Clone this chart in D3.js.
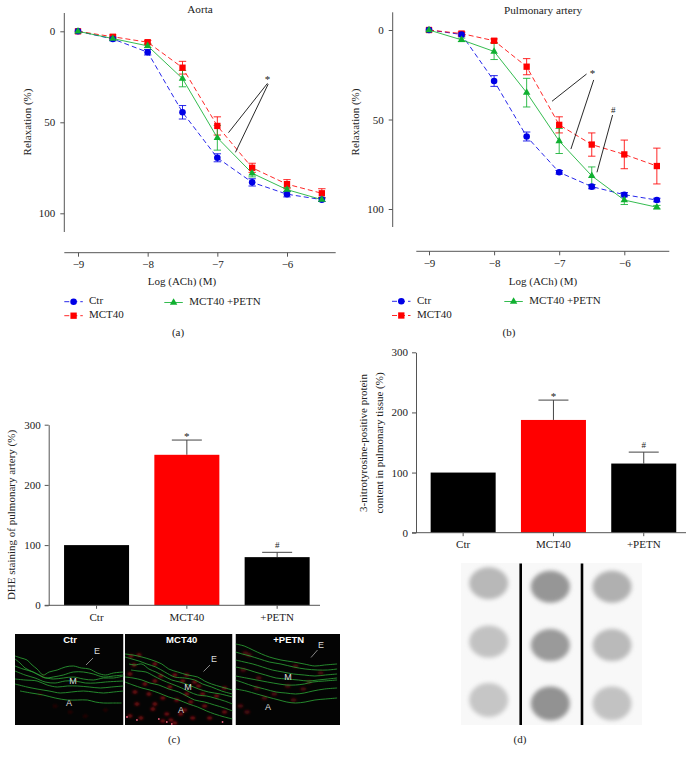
<!DOCTYPE html>
<html><head><meta charset="utf-8">
<script src="https://cdn.jsdelivr.net/npm/d3@7"></script>
<style>
html,body{margin:0;padding:0;background:#fff}
svg{display:block}
text{font-family:"Liberation Serif",serif;fill:#222}
</style></head><body>
<svg id="c" width="693" height="762"></svg>
<script>
// ---------- line-chart data ----------
const doses = [-9,-8.5,-8,-7.5,-7,-6.5,-6,-5.5];
const aortaCtr  = [0,4.2,11.5,44.5,69.5,83,89.5,92.5];
const aortaMct  = [0,3,6,20,52,75,84,89];
const aortaPetn = [0,4,8,26,58.5,78,87,92.5];
const aortaCtrErr  = [0,1,1.5,3.7,2.2,2,1.5,1];
const aortaMctErr  = [0,1,1,3.5,5,2.5,2.5,2.5];
const aortaPetnErr = [0,0.8,1,4.5,6.8,2,1.2,1];
const pulmCtr  = [0,2.5,28.5,59.5,79.5,87.5,92,95];
const pulmMct  = [0,2,6,20.5,53,64,69.5,76];
const pulmPetn = [0,5.5,12,35,62,81.5,95,99];
const pulmCtrErr  = [0,1,3,2.5,1,1.2,1.2,1];
const pulmMctErr  = [0,1,1,4.5,4.5,6.5,8,10];
const pulmPetnErr = [0,1,4.5,8,7,5,2.5,1];
const doseTicks = [-9,-8,-7,-6];
const relaxTicks = [0,50,100];
// annotation leaders in data units [x1,y1,x2,y2]
const aortaLeaders = [[-6.28,28.6,-6.84,55.7],[-6.27,29,-6.74,66.5]];
const aortaMarks = [["*",-6.28,26]];
const pulmLeaders = [[-6.58,24.6,-7.11,39.8],[-6.47,27.9,-6.82,66.5],[-6.18,47.5,-6.42,79.5]];
const pulmMarks = [["*",-6.49,23.8],["#",-6.17,45]];
// ---------- bar data ----------
const groups = ["Ctr","MCT40","+PETN"];
const dheValues = [100,250,80];
const dheTops = [null,274.5,88];
const dheMarks = [null,"*","#"];
const nitroValues = [100,187.5,115];
const nitroTops = [null,220.5,134];
const nitroMarks = [null,"*","#"];
const barTicks = [0,100,200,300];
const barColors = ["#000","#ff0000","#000"];
// ---------- dot blot (grey levels by lane, row) ----------
const blotGrey = [[184,194,198],[150,154,146],[176,186,194]];
// ---------- micrographs: traced in image px units ----------
const ctrFibres = [
 [[0,22],[6,24],[12,26],[17,31],[22,35],[28,41],[34,38],[42,36],[50,33],[58,32],[66,34],[74,35],[82,39],[90,41],[98,39],[108,38]],
 [[0,25],[5,29],[10,34],[18,38],[24,41],[30,44],[38,43],[48,41],[58,38],[68,38],[78,40],[88,43],[98,42],[108,41]],
 [[0,32],[8,35],[18,38],[28,43],[38,45],[48,44],[58,43],[68,45],[78,46],[88,44],[98,44],[108,42]],
 [[0,37],[10,41],[20,44],[30,48],[40,49],[50,47],[60,47],[70,49],[80,49],[90,48],[108,47]],
 [[0,45],[10,46],[22,47],[32,51],[42,53],[52,52],[62,52],[74,53],[85,54],[96,53],[108,52]],
 [[0,50],[12,53],[22,55],[34,57],[45,59],[56,58],[68,57],[78,58],[88,59],[98,58],[108,57]],
 [[5,57],[16,59],[28,61],[40,64],[52,66],[62,66],[72,66],[80,68],[88,69],[97,69],[106,69]]];
const mctFibres = [
 [[0,20],[8,21],[17,23],[27,26],[37,30],[44,35],[53,38],[63,41],[73,43],[80,47],[87,50],[97,53],[108,56]],
 [[0,23],[7,25],[14,27],[22,30],[31,33],[40,38],[50,43],[60,44],[70,46],[78,50],[87,53],[97,57],[108,60]],
 [[4,30],[10,31],[17,30],[24,35],[31,38],[39,42],[47,46],[55,48],[64,51],[74,55],[84,58],[96,60],[108,63]],
 [[6,36],[13,37],[21,38],[29,42],[37,46],[47,50],[57,54],[65,58],[73,61],[82,62],[90,64],[100,67],[108,70]],
 [[0,43],[8,44],[17,46],[25,49],[34,51],[44,55],[54,58],[62,62],[70,66],[80,68],[90,71],[100,74],[108,77]],
 [[0,48],[8,51],[17,54],[25,56],[34,59],[44,63],[54,66],[64,70],[73,73],[82,77],[90,80],[100,83],[108,85]]];
const petnFibres = [
 [[0,10],[9,12],[18,16],[27,20],[35,23],[47,26],[60,28],[71,30],[82,32],[92,31],[105,30]],
 [[0,18],[7,20],[15,22],[25,25],[35,28],[47,30],[60,33],[72,35],[85,36],[95,36],[105,35]],
 [[0,26],[9,28],[18,30],[28,33],[38,36],[49,38],[60,40],[71,41],[82,42],[93,41],[105,40]],
 [[0,33],[10,35],[20,38],[31,41],[42,44],[53,45],[65,46],[75,47],[85,46],[95,45],[105,44]],
 [[0,42],[11,44],[22,46],[33,48],[45,50],[53,51],[62,51],[71,50],[80,48],[92,47],[105,46]],
 [[0,46],[9,49],[18,52],[30,55],[42,58],[52,59],[62,60],[71,59],[80,57],[92,55],[105,54]],
 [[0,55],[11,57],[22,60],[33,63],[45,66],[53,68],[62,69],[72,68],[82,66],[93,65],[105,64]]];
const mctCells = [[6,22],[14,21],[9,31],[5,40],[30,30],[50,41],[62,41],[58,47],[74,52],[78,60],[62,60],[92,62],[100,54],[20,50],[30,47],[45,53],[10,58],[24,60],[38,64],[52,66],[66,68],[80,72],[12,70],[28,75],[42,80],[56,80],[68,84],[30,70],[85,84],[100,78],[5,82],[16,84],[50,89],[46,86],[38,87],[60,76],[70,48],[36,42]];
const mctBright = [[2,83],[12,86],[42,88],[47,90],[34,85],[98,88]];
const petnCells = [[10,19],[14,21],[8,36],[24,44],[22,54],[40,60],[60,66],[76,48],[88,39],[62,32],[5,72],[12,78],[30,64],[54,52],[70,55]];
const ctrCells = [[28,42],[25,60],[55,78],[40,72],[70,82],[90,76]];

const svg = d3.select("#c");
const defs = svg.append("defs");
const addBlur=(id,s)=>defs.append("filter").attr("id",id).attr("x","-40%").attr("y","-40%").attr("width","180%").attr("height","180%")
  .append("feGaussianBlur").attr("stdDeviation",s);
addBlur("b1",0.3);addBlur("b2",1.1);addBlur("b3",1.9);
const clip=(id,x,y,w,h)=>defs.append("clipPath").attr("id",id).append("rect").attr("x",x).attr("y",y).attr("width",w).attr("height",h);

const AXC="#555", FS=11;

function style(g){
  g.selectAll(".domain,.tick line").attr("stroke",AXC).attr("stroke-width",1);
  g.selectAll("text").attr("font-size",FS).attr("font-family","Liberation Serif").attr("fill","#222");
}
function lbl(x,y,t,size,rot){
  const s=svg.append("text").attr("text-anchor","middle").attr("font-size",size||FS).text(t);
  s.attr("transform",`translate(${x},${y})`+(rot?` rotate(${rot})`:"")).attr("dominant-baseline","middle");
  return s;
}
function marker(g,kind,x,y,col){
  if(kind==="c") g.append("circle").attr("cx",x).attr("cy",y).attr("r",3.3).attr("fill",col);
  else{
    const sym=d3.symbol().type(kind==="s"?d3.symbolSquare:d3.symbolTriangle).size(kind==="s"?40:24);
    g.append("path").attr("d",sym()).attr("transform",`translate(${x},${y})`).attr("fill",col);
  }
}
function lineChart(o){
  const x=d3.scaleLinear().domain([-9,-6]).range(o.xr);
  const y=d3.scaleLinear().domain([0,100]).range(o.yr);
  const g=svg.append("g");
  const xa=g.append("g").attr("transform",`translate(0,${o.xAxisY})`)
    .call(d3.axisBottom(x).tickValues(doseTicks).tickSizeInner(4).tickSizeOuter(0).tickPadding(4).tickFormat(d=>"\u2212"+Math.abs(d)));
  xa.select(".domain").attr("d",`M${o.xDom[0]},0H${o.xDom[1]}`);
  style(xa);
  const ya=g.append("g").attr("transform",`translate(${o.yAxisX},0)`)
    .call(d3.axisLeft(y).tickValues(relaxTicks).tickSizeInner(4).tickSizeOuter(0).tickPadding(5));
  ya.select(".domain").attr("d",`M0,${o.yDom[0]}V${o.yDom[1]}`);
  style(ya);
  const series=[
    {v:o.ctr,e:o.ctrE,c:"#0000e6",k:"c",dash:"5,3"},
    {v:o.mct,e:o.mctE,c:"#ff0000",k:"s",dash:"5,3"},
    {v:o.petn,e:o.petnE,c:"#10b030",k:"t",dash:null}];
  const line=d3.line().x((d,i)=>x(doses[i])).y(d=>y(d));
  series.forEach(s=>{
    const sg=g.append("g");
    sg.append("path").attr("d",line(s.v)).attr("fill","none").attr("stroke",s.c).attr("stroke-width",.85).attr("stroke-dasharray",s.dash);
    s.v.forEach((v,i)=>{
      if(s.e[i]>0){
        const px=x(doses[i]),a=y(v-s.e[i]),b=y(v+s.e[i]);
        sg.append("path").attr("d",`M${px-3.7},${a}H${px+3.7}M${px},${a}V${b}M${px-3.7},${b}H${px+3.7}`).attr("stroke",s.c).attr("stroke-width",.85).attr("fill","none");
      }
    });
  });
  [series[1],series[0],series[2]].forEach(s=>{
    s.v.forEach((v,i)=>marker(g,s.k,x(doses[i]),y(v),s.c));
  });
  o.leaders.forEach(l=>g.append("line").attr("x1",x(l[0])).attr("y1",y(l[1])).attr("x2",x(l[2])).attr("y2",y(l[3])).attr("stroke","#111").attr("stroke-width",.9));
  o.marks.forEach(m=>lbl(x(m[1]),y(m[2])+(m[0]==="*"?2:0),m[0],m[0]==="*"?11:9));
  lbl(o.title[0],o.title[1],o.title[2],11.2);
  lbl(o.yl[0],o.yl[1],"Relaxation (%)",FS,-90);
  lbl(o.xl[0],o.xl[1],"Log (ACh) (M)");
  // legend rows: label, series, line start, y, text start
  [["Ctr",series[0],...o.legend[0]],["MCT40",series[1],...o.legend[1]],["MCT40 +PETN",series[2],...o.legend[2]]]
   .forEach(r=>{
     const s=r[1];
     g.append("line").attr("x1",r[2]).attr("x2",r[2]+18.5).attr("y1",r[3]).attr("y2",r[3]).attr("stroke",s.c).attr("stroke-width",.85).attr("stroke-dasharray",s.dash);
     marker(g,s.k,r[2]+9.3,r[3],s.c);
     g.append("text").attr("x",r[4]).attr("y",r[3]).attr("dominant-baseline","middle").attr("font-size",FS).text(r[0]);
   });
  lbl(o.cap[0],o.cap[1],o.cap[2],FS);
}
lineChart({xr:[78,287],yr:[31.3,213.3],xAxisY:252.7,yAxisX:64.3,xDom:[64.3,335.7],yDom:[13,232],
  ctr:aortaCtr,mct:aortaMct,petn:aortaPetn,ctrE:aortaCtrErr,mctE:aortaMctErr,petnE:aortaPetnErr,
  leaders:aortaLeaders,marks:aortaMarks,title:[200,10,"Aorta"],yl:[28.5,122],xl:[182,282],
  legend:[[64.3,301.7,89],[64.3,315.7,89],[164.3,302.5,189.3]],cap:[178,333,"(a)"]});
lineChart({xr:[429,624.3],yr:[30,209],xAxisY:251.3,yAxisX:392.7,xDom:[416.3,669.3],yDom:[12.3,227],
  ctr:pulmCtr,mct:pulmMct,petn:pulmPetn,ctrE:pulmCtrErr,mctE:pulmMctErr,petnE:pulmPetnErr,
  leaders:pulmLeaders,marks:pulmMarks,title:[543,11,"Pulmonary artery"],yl:[356,122],xl:[543,282],
  legend:[[392,301.3,417],[392,315.5,417],[504.3,301.5,529.3]],cap:[509,333,"(b)"]});

function barChart(o){
  const y=d3.scaleLinear().domain([0,300]).range([o.y0,o.y300]);
  const x=d3.scaleBand().domain(groups).range(o.xr).paddingInner(.28).paddingOuter(.17);
  const g=svg.append("g");
  groups.forEach((c,i)=>{
    const cx=x(c)+x.bandwidth()/2;
    if(o.tops[i]!=null){
      g.append("path").attr("d",`M${cx},${y(o.vals[i])}V${y(o.tops[i])}M${cx-15},${y(o.tops[i])}H${cx+15}`).attr("stroke","#444").attr("stroke-width",1).attr("fill","none");
      lbl(cx,y(o.tops[i])-(o.marks[i]==="*"?2.5:6),o.marks[i],o.marks[i]==="*"?11:9);
    }
    g.append("rect").attr("x",x(c)).attr("y",y(o.vals[i])).attr("width",x.bandwidth()).attr("height",o.y0-y(o.vals[i])).attr("fill",barColors[i]);
  });
  const xa=g.append("g").attr("transform",`translate(0,${o.y0})`)
   .call(d3.axisBottom(x).tickSizeInner(3.5).tickSizeOuter(0).tickPadding(4));
  xa.select(".domain").attr("d",`M${o.xDom[0]},0H${o.xDom[1]}`);
  style(xa);
  const ya=g.append("g").attr("transform",`translate(${o.xDom[0]+o.yOff},0)`)
   .call(d3.axisLeft(y).tickValues(barTicks).tickSizeInner(4).tickSizeOuter(0).tickPadding(4));
  style(ya);
}
barChart({y0:605.3,y300:424.7,xr:[48.7,325],xDom:[44.7,320],yOff:4,vals:dheValues,tops:dheTops,marks:dheMarks});
lbl(12,515,"DHE staining of pulmonary artery (%)",FS,-90);
barChart({y0:532.7,y300:352.3,xr:[415.3,691.6],xDom:[412,686],yOff:4,vals:nitroValues,tops:nitroTops,marks:nitroMarks});
lbl(364,443,"3-nitrotyrosine-positive protein",FS,-90);
lbl(380,443,"content in pulmonary tissue (%)",FS,-90);
lbl(174,740,"(c)");lbl(520,740,"(d)");

// ---------- micrographs ----------
function micro(id,X,W,fibres,cells,cellCol,cellR,bright,title,tx,E,M,A,pointer){
  const Y=634,H=91;
  clip(id,X,Y,W,H);
  const g=svg.append("g").attr("clip-path",`url(#${id})`);
  g.append("rect").attr("x",X).attr("y",Y).attr("width",W).attr("height",H).attr("fill","#040404");
  const px=d3.scaleLinear().domain([0,108]).range([X,X+W]);
  const py=d3.scaleLinear().domain([0,91]).range([Y,Y+H]);
  const cg=g.append("g").attr("filter","url(#b2)");
  cells.forEach(c=>cg.append("ellipse").attr("cx",px(c[0])).attr("cy",py(c[1])).attr("rx",cellR*1.5).attr("ry",cellR).attr("fill",cellCol));
  bright.forEach(c=>g.append("circle").attr("cx",px(c[0])).attr("cy",py(c[1])).attr("r",.9).attr("fill","#e8607a"));
  const ln=d3.line().x(d=>px(d[0])).y(d=>py(d[1])).curve(d3.curveCatmullRom);
  const fg=g.append("g").attr("filter","url(#b1)");
  fibres.forEach(f=>fg.append("path").attr("d",ln(f)).attr("fill","none").attr("stroke","#2a9e34").attr("stroke-width",.85));
  svg.append("text").attr("x",tx).attr("y",640).attr("text-anchor","middle").attr("dominant-baseline","middle").attr("font-size",9.5).attr("font-weight","bold").style("font-family","Liberation Sans").style("fill","#fff").text(title);
  [["E",E],["M",M],["A",A]].forEach(r=>svg.append("text").attr("x",r[1][0]).attr("y",r[1][1]).attr("text-anchor","middle").attr("dominant-baseline","middle").attr("font-size",9).style("font-family","Liberation Sans").style("fill","#ddd").text(r[0]));
  svg.append("line").attr("x1",pointer[0]).attr("y1",pointer[1]).attr("x2",pointer[2]).attr("y2",pointer[3]).attr("stroke","#bbb").attr("stroke-width",.7);
}
micro("m1",15,108.5,ctrFibres,ctrCells,"#2a0406",1.6,[],"Ctr",70,[97,652],[73,682],[69,704],[86,665,93,658]);
micro("m2",125,107.5,mctFibres,mctCells,"#7c0c12",1.7,mctBright,"MCT40",181.7,[214,660],[188,688],[181,711],[203.5,671.5,210,665]);
micro("m3",235.5,104.5,petnFibres,petnCells,"#4c080c",1.9,[],"+PETN",288.7,[321,646],[288,678],[268,708],[311,657.5,317.5,650]);

// ---------- dot blot ----------
const blot=svg.append("g");
blot.append("rect").attr("x",461).attr("y",563).attr("width",181).attr("height",162).attr("fill","#f8f8f8");
const laneX=d3.scalePoint().domain([0,1,2]).range([488.7,612]);
const rowY=d3.scalePoint().domain([0,1,2]).range([584.7,701.5]);
const dots=blot.append("g").attr("filter","url(#b3)");
blotGrey.forEach((lane,i)=>lane.forEach((v,j)=>{
  dots.append("ellipse").attr("cx",laneX(i)).attr("cy",rowY(j)+(i>0?2:-1.5)).attr("rx",19.5).attr("ry",16+(j==2?1:0)).attr("fill",d3.rgb(v,v,v));
}));
[520.7,582].forEach(x=>blot.append("line").attr("x1",x).attr("x2",x).attr("y1",563.5).attr("y2",725).attr("stroke","#000").attr("stroke-width",2.6));
</script>
</body></html>
